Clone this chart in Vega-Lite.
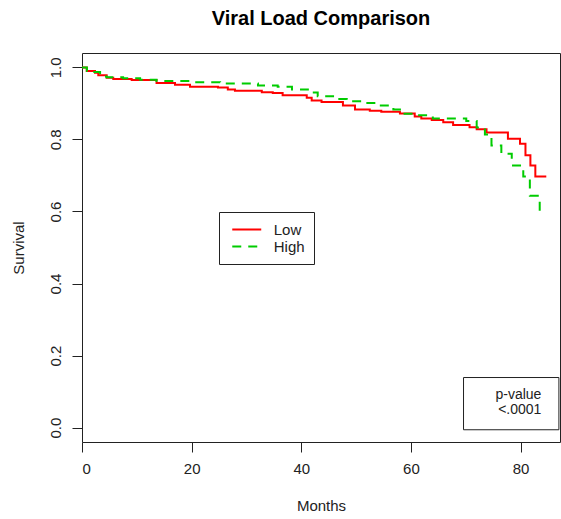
{
  "$schema": "https://vega.github.io/schema/vega-lite/v6.json",
  "width": 478,
  "height": 389,
  "autosize": "none",
  "padding": {"left": 82, "top": 53, "right": 1, "bottom": 77},
  "background": "white",
  "config": {
    "font": "Liberation Sans",
    "view": {"stroke": "#222", "strokeWidth": 1},
    "axis": {
      "grid": false,
      "domain": false,
      "tickColor": "#222",
      "tickSize": 10,
      "tickWidth": 1,
      "labelColor": "#222",
      "labelFontSize": 15,
      "labelFont": "Liberation Sans",
      "titleColor": "#222",
      "titleFontSize": 15,
      "titleFontWeight": "normal",
      "titleFont": "Liberation Sans"
    },
    "legend": {
      "orient": "none",
      "legendX": 137,
      "legendY": 159,
      "strokeColor": "#222",
      "fillColor": "white",
      "padding": 9,
      "cornerRadius": 0,
      "labelFontSize": 15,
      "labelColor": "#222",
      "labelFont": "Liberation Sans",
      "symbolType": "M-2,0H2",
      "symbolSize": 210,
      "symbolStrokeWidth": 2,
      "symbolOffset": 10.25,
      "labelOffset": 18.5,
      "rowPadding": 0
    }
  },
  "title": {
    "text": "Viral Load Comparison",
    "fontSize": 20,
    "fontWeight": "bold",
    "font": "Liberation Sans",
    "anchor": "middle",
    "color": "#000",
    "offset": 8,
    "baseline": "alphabetic"
  },
  "datasets": {
    "curves": [
      {"group": "Low", "t": 0, "s": 1.0},
      {"group": "Low", "t": 0.86, "s": 0.99},
      {"group": "Low", "t": 2.37, "s": 0.985},
      {"group": "Low", "t": 2.97, "s": 0.978},
      {"group": "Low", "t": 4.5, "s": 0.971},
      {"group": "Low", "t": 5.7, "s": 0.968},
      {"group": "Low", "t": 9.06, "s": 0.965},
      {"group": "Low", "t": 13.6, "s": 0.957},
      {"group": "Low", "t": 16.96, "s": 0.952},
      {"group": "Low", "t": 19.7, "s": 0.946},
      {"group": "Low", "t": 24.8, "s": 0.944},
      {"group": "Low", "t": 26.6, "s": 0.939},
      {"group": "Low", "t": 27.9, "s": 0.935},
      {"group": "Low", "t": 32.8, "s": 0.931},
      {"group": "Low", "t": 34.8, "s": 0.929},
      {"group": "Low", "t": 36.6, "s": 0.923},
      {"group": "Low", "t": 41.0, "s": 0.916},
      {"group": "Low", "t": 41.9, "s": 0.908},
      {"group": "Low", "t": 43.7, "s": 0.904},
      {"group": "Low", "t": 47.6, "s": 0.894},
      {"group": "Low", "t": 49.8, "s": 0.883},
      {"group": "Low", "t": 52.5, "s": 0.88},
      {"group": "Low", "t": 54.6, "s": 0.877},
      {"group": "Low", "t": 58.0, "s": 0.872},
      {"group": "Low", "t": 60.7, "s": 0.864},
      {"group": "Low", "t": 61.9, "s": 0.858},
      {"group": "Low", "t": 63.8, "s": 0.854},
      {"group": "Low", "t": 65.9, "s": 0.848},
      {"group": "Low", "t": 67.7, "s": 0.84},
      {"group": "Low", "t": 70.7, "s": 0.834},
      {"group": "Low", "t": 72.0, "s": 0.828},
      {"group": "Low", "t": 73.8, "s": 0.819},
      {"group": "Low", "t": 77.7, "s": 0.802},
      {"group": "Low", "t": 79.9, "s": 0.788},
      {"group": "Low", "t": 80.9, "s": 0.756},
      {"group": "Low", "t": 81.8, "s": 0.728},
      {"group": "Low", "t": 82.7, "s": 0.697},
      {"group": "Low", "t": 84.7, "s": 0.697},
      {"group": "High", "t": 0, "s": 1.0},
      {"group": "High", "t": 0.9, "s": 0.99},
      {"group": "High", "t": 1.8, "s": 0.987},
      {"group": "High", "t": 3.3, "s": 0.975},
      {"group": "High", "t": 4.5, "s": 0.973},
      {"group": "High", "t": 7.5, "s": 0.97},
      {"group": "High", "t": 10.6, "s": 0.966},
      {"group": "High", "t": 13.6, "s": 0.962},
      {"group": "High", "t": 20.0, "s": 0.959},
      {"group": "High", "t": 25.2, "s": 0.955},
      {"group": "High", "t": 32.1, "s": 0.95},
      {"group": "High", "t": 35.7, "s": 0.946},
      {"group": "High", "t": 38.3, "s": 0.939},
      {"group": "High", "t": 41.2, "s": 0.93},
      {"group": "High", "t": 43.0, "s": 0.92},
      {"group": "High", "t": 45.8, "s": 0.912},
      {"group": "High", "t": 48.3, "s": 0.906},
      {"group": "High", "t": 51.6, "s": 0.901},
      {"group": "High", "t": 54.0, "s": 0.894},
      {"group": "High", "t": 56.8, "s": 0.883},
      {"group": "High", "t": 58.0, "s": 0.871},
      {"group": "High", "t": 60.4, "s": 0.867},
      {"group": "High", "t": 64.0, "s": 0.858},
      {"group": "High", "t": 70.1, "s": 0.851},
      {"group": "High", "t": 72.0, "s": 0.833},
      {"group": "High", "t": 73.5, "s": 0.814},
      {"group": "High", "t": 74.7, "s": 0.783},
      {"group": "High", "t": 76.5, "s": 0.76},
      {"group": "High", "t": 78.4, "s": 0.728},
      {"group": "High", "t": 80.5, "s": 0.697},
      {"group": "High", "t": 81.7, "s": 0.644},
      {"group": "High", "t": 83.5, "s": 0.594}
    ],
    "pbox": [
      {"t": 69.6, "t2": 87.0, "s": 0.139, "s2": -0.006}
    ],
    "ptext": [
      {"t": 83.8, "s": 0.078, "label": "p-value"},
      {"t": 83.8, "s": 0.0377, "label": "<.0001"}
    ]
  },
  "layer": [
    {
      "data": {"name": "curves"},
      "mark": {"type": "line", "interpolate": "step-after", "strokeWidth": 2},
      "encoding": {
        "x": {
          "field": "t",
          "type": "quantitative",
          "scale": {"domain": [0, 87.2], "nice": false, "zero": false},
          "axis": {
            "values": [0, 20, 40, 60, 80],
            "title": "Months",
            "labelPadding": 9,
            "labelAngle": 0,
            "titleY": 63,
            "titleBaseline": "middle"
          }
        },
        "y": {
          "field": "s",
          "type": "quantitative",
          "scale": {"domain": [-0.04, 1.04], "nice": false, "zero": false},
          "axis": {
            "values": [0, 0.2, 0.4, 0.6, 0.8, 1.0],
            "format": ".1f",
            "title": "Survival",
            "labelAngle": 270,
            "labelAlign": "center",
            "labelBaseline": "bottom",
            "labelPadding": 9,
            "titleAngle": 270,
            "titleX": -64,
            "titleY": 194.5,
            "titleAlign": "center",
            "titleBaseline": "middle"
          }
        },
        "color": {
          "field": "group",
          "type": "nominal",
          "scale": {"domain": ["Low", "High"], "range": ["#ff0000", "#00cc00"]},
          "legend": {"title": null}
        },
        "strokeDash": {
          "field": "group",
          "type": "nominal",
          "scale": {"domain": ["Low", "High"], "range": [[1, 0], [9, 7]]},
          "legend": {"title": null}
        }
      }
    },
    {
      "data": {"name": "pbox"},
      "mark": {"type": "rect", "fill": "white", "stroke": "#222", "strokeWidth": 1},
      "encoding": {
        "x": {"field": "t", "type": "quantitative", "scale": {"domain": [0, 87.2], "nice": false, "zero": false}},
        "x2": {"field": "t2"},
        "y": {"field": "s", "type": "quantitative", "scale": {"domain": [-0.04, 1.04], "nice": false, "zero": false}},
        "y2": {"field": "s2"}
      }
    },
    {
      "data": {"name": "ptext"},
      "mark": {"type": "text", "align": "right", "baseline": "alphabetic", "fontSize": 14, "font": "Liberation Sans", "color": "#222"},
      "encoding": {
        "x": {"field": "t", "type": "quantitative", "scale": {"domain": [0, 87.2], "nice": false, "zero": false}},
        "y": {"field": "s", "type": "quantitative", "scale": {"domain": [-0.04, 1.04], "nice": false, "zero": false}},
        "text": {"field": "label"}
      }
    }
  ]
}
